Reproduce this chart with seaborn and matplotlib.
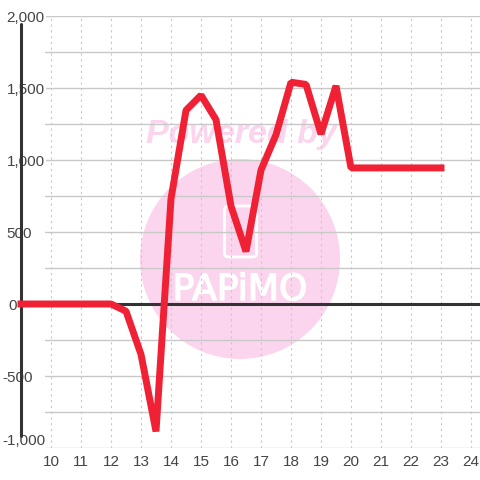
import matplotlib
matplotlib.use("Agg")
import matplotlib.pyplot as plt
import matplotlib.patheffects as pe
from matplotlib.patches import Circle, FancyBboxPatch
import seaborn as sns

hours = [9, 9.5, 10, 10.5, 11, 11.5, 12, 12.5, 13, 13.5, 14, 14.5, 15, 15.5, 16,
         16.5, 17, 17.5, 18, 18.5, 19, 19.5, 20, 20.5, 21, 21.5, 22, 22.5, 23]
values = [0, 0, 0, 0, 0, 0, 0, -50, -350, -885, 730, 1345, 1450, 1280, 680,
          365, 930, 1175, 1540, 1525, 1180, 1515, 945, 945, 945, 945, 945, 945, 945]
x_ticks = list(range(10, 25))
y_ticks = [-1000, -500, 0, 500, 1000, 1500, 2000]
y_minor = [-750, -250, 250, 750, 1250, 1750]

W = 480
sns.set_theme(style="white")
plt.rcParams['font.family'] = ['Liberation Sans', 'DejaVu Sans']
fig = plt.figure(figsize=(4.8, 4.8), dpi=100, facecolor="white")
ax = fig.add_axes([45 / W, 1 - 448 / W, 435 / W, 432 / W])
ax.set_xlim(10 - 6 / 30, 10 + 429 / 30)
ax.set_ylim(-1000, 2000)
ax.patch.set_visible(False)

GRID = "#c8c8c8"
TXT = "#444444"
AXIS = "#333333"

ax.set_xticks(x_ticks)
ax.set_yticks(y_ticks)
ax.set_yticks(y_minor, minor=True)
ax.set_xticklabels([str(v) for v in x_ticks])
ax.set_yticklabels([f"{v:,}" for v in y_ticks])
ax.grid(True, axis="y", which="both", color=GRID, lw=1.0, zorder=1)
ax.grid(True, axis="x", which="major", color=GRID, lw=0.8, ls=(0, (2.0, 3.2)), zorder=1)
ax.set_axisbelow(True)
for s in ["top", "right", "bottom", "left"]:
    ax.spines[s].set_visible(False)
ax.tick_params(axis="y", which="both", length=0, pad=(45 - 2.3) * 0.72, labelsize=11, labelcolor=TXT)
ax.tick_params(axis="x", which="both", length=0, pad=5, labelsize=11, labelcolor=TXT)

ax.axvline(9, ymin=12 / 432, ymax=424 / 432, color=AXIS, lw=2.2, clip_on=False, zorder=3)

for t, v in zip(ax.get_yticklabels(), y_ticks):
    t.set_ha("left")
    if v >= 0:
        t.set_x((4.4 if v > 0 else 6.0) / 435)
    if v != 0:
        t.set_bbox(dict(facecolor="white", edgecolor="none", pad=0.6))
    if v == -1000:
        t.set_va("bottom")
    t.set_zorder(6)

# watermark, in figure pixels
PINK = "#fbd5ee"
ov = fig.add_axes([0, 0, 1, 1], zorder=-1)
ov.set_xlim(0, W)
ov.set_ylim(W, 0)
ov.axis("off")
ov.add_patch(Circle((240, 259), 100, fc=PINK, ec="none"))
ov.add_patch(FancyBboxPatch((224.5, 206), 32, 51, boxstyle="round,pad=0,rounding_size=4",
                            fc="none", ec="white", lw=2.0))
ov.text(241.5, 135, "Powered by", color=PINK, fontsize=24.5, fontweight="bold",
        fontstyle="italic", ha="center", va="center")
ov.text(240, 290, "PAPiMO", color="white", fontsize=26, ha="center", va="center",
        family="DejaVu Sans",
        path_effects=[pe.withStroke(linewidth=1.0, foreground="white")])

ax.axhline(0, color=AXIS, lw=2.2, xmin=-25 / 435, xmax=1, clip_on=False, zorder=3)
sns.lineplot(x=hours, y=values, ax=ax, color="#f02035", lw=5.0, zorder=4,
             errorbar=None, estimator=None, sort=False, legend=False, clip_on=False,
             solid_capstyle="projecting", solid_joinstyle="bevel")
ax.set_xlabel("")
ax.set_ylabel("")
fig.savefig("out.png", dpi=100, facecolor="white")
